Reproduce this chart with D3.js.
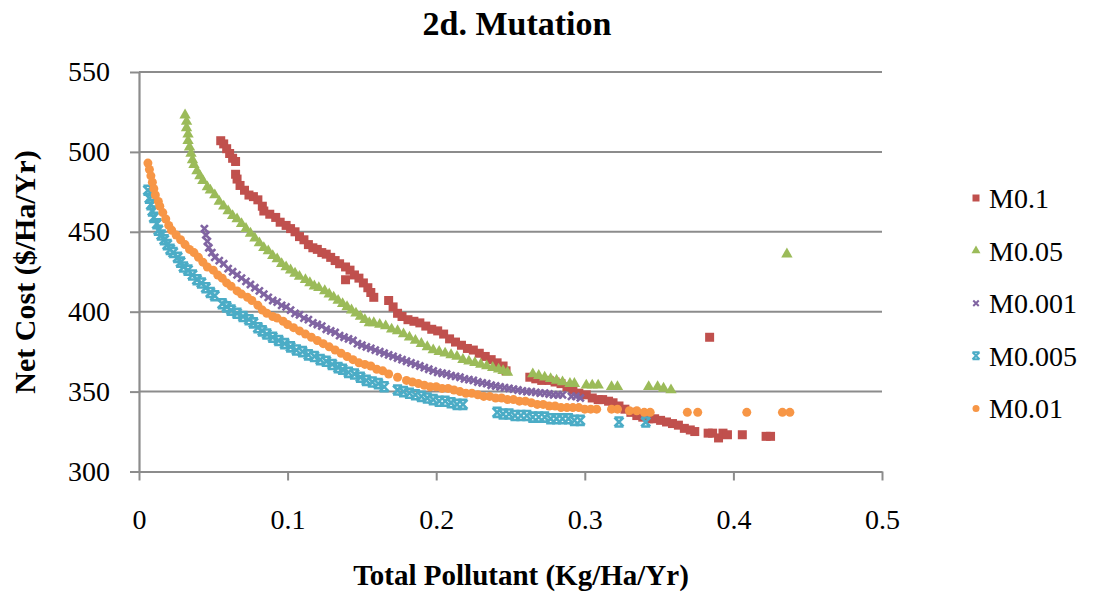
<!DOCTYPE html>
<html>
<head>
<meta charset="utf-8">
<script src="https://cdn.jsdelivr.net/npm/d3@7"></script>
<style>
  body { margin: 0; background: #fff; }
  text { font-family: "Liberation Serif", "Times New Roman", serif; fill: #000; }
</style>
</head>
<body>
<div id="chart"></div>
<script>
// series: [pollutant, net cost]
const m01 = [
  [0.055,507],[0.057,505],[0.059,502],[0.061,499],[0.063,496],[0.065,494],[0.065,486],[0.066,483],
  [0.068,479],[0.071,476],[0.074,473],[0.077,472],[0.080,470],[0.083,466],[0.084,463],[0.088,461],
  [0.092,459],[0.095,456],[0.099,454],[0.102,452],[0.105,450],[0.108,447],[0.111,445],[0.114,442],
  [0.117,440],[0.120,439],[0.123,437],[0.126,436],[0.129,434],[0.132,432],[0.135,430],[0.139,428],
  [0.139,420],[0.142,426],[0.145,423],[0.148,421],[0.151,418],[0.154,415],[0.156,412],[0.158,409],
  [0.168,407],[0.171,403],[0.174,399],[0.177,397],[0.181,395],[0.185,394],[0.189,393],[0.193,391],
  [0.197,389],[0.201,388],[0.205,386],[0.209,383],[0.213,381],[0.217,379],[0.221,377],[0.225,376],
  [0.229,374],[0.233,372],[0.237,370],[0.241,368],[0.245,366],[0.247,363],[0.263,359],[0.267,358],
  [0.271,357],[0.276,357],[0.280,356],[0.284,355],[0.288,353],[0.292,351],[0.296,349],[0.301,348],
  [0.305,346],[0.309,345],[0.312,345],[0.316,344],[0.319,343],[0.323,341],[0.327,339],[0.331,337],
  [0.335,335],[0.339,334],[0.343,333],[0.347,333],[0.351,332],[0.355,331],[0.359,330],[0.363,329],
  [0.367,327],[0.371,326],[0.374,325],[0.383,324],[0.386,324],[0.390,321],[0.393,324],[0.396,323],
  [0.406,323],[0.422,322],[0.425,322],[0.384,384]
];

const m005 = [
  [0.031,523],[0.032,519],[0.032,515],[0.033,511],[0.033,507],[0.034,503],[0.035,499],[0.036,495],
  [0.037,492],[0.039,488],[0.041,485],[0.043,482],[0.046,478],[0.048,476],[0.051,473],[0.054,469],
  [0.057,466],[0.060,463],[0.063,460],[0.066,458],[0.069,455],[0.072,452],[0.075,449],[0.078,446],
  [0.081,443],[0.084,440],[0.087,438],[0.090,435],[0.093,433],[0.096,430],[0.099,428],[0.102,426],
  [0.105,424],[0.108,422],[0.112,420],[0.115,418],[0.118,416],[0.121,415],[0.125,413],[0.128,411],
  [0.131,409],[0.134,407],[0.137,405],[0.140,403],[0.143,401],[0.146,399],[0.149,397],[0.152,395],
  [0.155,393],[0.158,393],[0.162,392],[0.166,391],[0.170,389],[0.174,388],[0.178,386],[0.182,384],
  [0.186,382],[0.190,380],[0.194,378],[0.198,376],[0.202,375],[0.206,374],[0.210,373],[0.214,372],
  [0.218,370],[0.222,369],[0.226,368],[0.230,367],[0.234,366],[0.238,365],[0.242,364],[0.245,363],
  [0.248,362],[0.265,361],[0.269,360],[0.273,359],[0.277,358],[0.281,357],[0.285,356],[0.290,355],
  [0.293,355],[0.301,354],[0.305,354],[0.309,354],[0.318,353],[0.322,353],[0.343,353],[0.349,353],
  [0.353,352],[0.358,351],[0.436,436]
];

const m0001 = [
  [0.044,452],[0.045,448],[0.046,444],[0.047,440],[0.049,437],[0.051,434],[0.054,432],[0.057,430],
  [0.060,427],[0.063,425],[0.066,423],[0.069,421],[0.072,419],[0.075,417],[0.078,415],[0.081,413],
  [0.084,411],[0.087,409],[0.090,407],[0.093,406],[0.096,404],[0.099,403],[0.102,401],[0.105,399],
  [0.108,398],[0.111,396],[0.114,395],[0.117,393],[0.120,392],[0.123,391],[0.126,389],[0.129,388],
  [0.132,387],[0.135,385],[0.138,384],[0.141,383],[0.144,382],[0.147,380],[0.150,379],[0.153,378],
  [0.156,377],[0.159,376],[0.162,375],[0.165,374],[0.168,373],[0.171,372],[0.174,371],[0.177,370],
  [0.180,369],[0.183,368],[0.186,367],[0.189,366],[0.192,365],[0.195,364],[0.198,363],[0.201,362],
  [0.204,361.5],[0.207,361],[0.210,360],[0.213,359.5],[0.216,359],[0.219,358],[0.222,357.5],[0.225,357],
  [0.228,356],[0.231,355.5],[0.234,355],[0.237,354],[0.240,353.5],[0.243,353],[0.246,352.5],[0.249,352],
  [0.252,351.5],[0.255,351],[0.258,350.5],[0.261,350],[0.264,350],[0.267,349.5],[0.270,349],[0.273,349],
  [0.276,348.5],[0.279,348],[0.282,348],[0.285,348],[0.291,347],[0.294,347],[0.297,346]
];

const m0005 = [
  [0.006,476],[0.007,471],[0.008,467],[0.009,463],[0.010,459],[0.012,455],[0.013,451],[0.015,448],
  [0.017,445],[0.019,442],[0.021,439],[0.023,437],[0.026,434],[0.028,431],[0.030,428],[0.033,426],
  [0.036,423],[0.039,420],[0.042,418],[0.045,415],[0.048,412],[0.051,410],[0.056,405],[0.059,403],
  [0.062,401],[0.066,399],[0.070,397],[0.074,395],[0.077,393],[0.080,390],[0.083,388],[0.086,386],
  [0.090,384],[0.094,382],[0.098,380],[0.102,378],[0.106,376],[0.110,375],[0.114,373],[0.118,372],
  [0.122,370],[0.126,369],[0.130,367],[0.134,365],[0.137,364],[0.141,362],[0.145,361],[0.149,359],
  [0.153,357],[0.157,356],[0.161,355],[0.165,353],[0.174,351],[0.178,350],[0.182,349],[0.186,348],
  [0.190,347],[0.194,346],[0.198,345],[0.202,344],[0.206,344],[0.210,343],[0.214,342],[0.218,342],
  [0.241,337],[0.245,336],[0.249,336],[0.253,335],[0.257,335],[0.261,335],[0.265,334],[0.269,334],
  [0.273,334],[0.277,333],[0.281,333],[0.285,333],[0.289,333],[0.293,332],[0.297,332],[0.323,331],
  [0.341,331]
];

const m001 = [
  [0.006,493],[0.007,489],[0.008,485],[0.009,481],[0.010,477],[0.011,473],[0.013,469],[0.014,466],
  [0.016,462],[0.018,458],[0.020,454],[0.022,451],[0.025,448],[0.028,445],[0.031,442],[0.034,439],
  [0.037,437],[0.040,434],[0.043,431],[0.046,428],[0.050,426],[0.053,423],[0.056,421],[0.059,418],
  [0.062,416],[0.066,413],[0.069,411],[0.073,409],[0.076,407],[0.080,404],[0.083,401],[0.086,399],
  [0.090,397],[0.093,396],[0.097,394],[0.100,392],[0.104,390],[0.108,388],[0.112,386],[0.116,384],
  [0.120,382],[0.124,380],[0.128,378],[0.132,376],[0.136,374],[0.140,372],[0.144,370],[0.148,368],
  [0.152,367],[0.156,366],[0.160,364],[0.164,363],[0.168,361],[0.174,359],[0.180,357],[0.184,356],
  [0.188,355],[0.192,354],[0.196,353],[0.200,353],[0.204,352],[0.208,352],[0.212,351],[0.216,350],
  [0.220,349],[0.224,349],[0.228,348],[0.232,347],[0.236,347],[0.240,346],[0.244,346],[0.248,345],
  [0.252,345],[0.256,344],[0.260,344],[0.264,343],[0.268,342],[0.272,342],[0.276,341],[0.280,341],
  [0.284,340],[0.288,340],[0.292,340],[0.296,340],[0.300,339],[0.304,339],[0.308,339],[0.318,339],
  [0.322,339],[0.330,338],[0.335,338],[0.340,337],[0.344,337],[0.369,337],[0.376,337],[0.409,337],
  [0.433,337],[0.438,337]
];

const seriesNames = ['M0.1', 'M0.05', 'M0.001', 'M0.005', 'M0.01'];
const seriesValues = [m01, m005, m0001, m0005, m001];
const xTicks = [0, 0.1, 0.2, 0.3, 0.4, 0.5];
const yTicks = [300, 350, 400, 450, 500, 550];

const COLORS = ['#C0504D', '#9BBB59', '#8064A2', '#4BACC6', '#F79646'];
const GRID = '#8c8c8c';

// marker path builders, s = overall size in px
const markers = [
  s => `M${-s/2},${-s/2}h${s}v${s}h${-s}Z`,
  s => d3.symbol(d3.symbolTriangle, s * s * 0.62)(),
  s => { const h = s / 2; return `M${-h},${-h}L${h},${h}M${-h},${h}L${h},${-h}`; },
  s => { const h = s / 2; return `M${-h},${-h}L${h},${h}M${-h},${h}L${h},${-h}M${-h},${-h}H${h}M${-h},${h}H${h}`; },
  s => d3.symbol(d3.symbolCircle, Math.PI * s * s / 4)()
];
const stroked = [false, false, true, true, false];
const plotSize = [9, 9.5, 7, 9, 9];
const legendSize = [7, 7.5, 5.5, 7, 7];

const width = 1098, height = 597;
const x = d3.scaleLinear().domain([0, 0.5]).range([139, 882]);
const y = d3.scaleLinear().domain([300, 550]).range([471.5, 72]);

const svg = d3.select('#chart').append('svg')
  .attr('width', width)
  .attr('height', height);

// gridlines
svg.append('g')
  .selectAll('line')
  .data(yTicks.slice(1))
  .join('line')
    .attr('x1', x(0)).attr('x2', x(0.5))
    .attr('y1', d => y(d)).attr('y2', d => y(d))
    .attr('stroke', GRID)
    .attr('stroke-width', 2);

// axes
const yAxis = svg.append('g')
  .attr('transform', `translate(${x(0)},0)`)
  .call(d3.axisLeft(y).tickValues(yTicks).tickSize(9).tickPadding(20).tickSizeOuter(0));

const xAxis = svg.append('g')
  .attr('transform', `translate(0,${y(300)})`)
  .call(d3.axisBottom(x).tickValues(xTicks).tickSize(9).tickSizeOuter(0).tickFormat(d3.format('')));

[xAxis, yAxis].forEach(ax => {
  ax.select('.domain').attr('stroke', GRID).attr('stroke-width', 2.2);
  ax.selectAll('.tick line').attr('stroke', GRID).attr('stroke-width', 2);
  ax.selectAll('.tick text')
    .style('font-family', '"Liberation Serif", "Times New Roman", serif')
    .style('font-size', '28px')
    .attr('fill', '#000');
});
xAxis.selectAll('.tick text').attr('y', 57).attr('dy', 0);

// points
seriesValues.forEach((values, i) => {
  const path = markers[i](plotSize[i]);
  svg.append('g')
    .attr('class', 'series')
    .selectAll('path')
    .data(values)
    .join('path')
      .attr('d', path)
      .attr('transform', d => `translate(${x(d[0])},${y(d[1])})`)
      .attr('fill', stroked[i] ? 'none' : COLORS[i])
      .attr('stroke', stroked[i] ? COLORS[i] : 'none')
      .attr('stroke-width', stroked[i] ? 2.6 : 0);
});

// title and axis titles
svg.append('text')
  .attr('x', 517).attr('y', 35)
  .attr('text-anchor', 'middle')
  .style('font-size', '34px').style('font-weight', 'bold')
  .text('2d. Mutation');

svg.append('text')
  .attr('x', 521).attr('y', 585)
  .attr('text-anchor', 'middle')
  .style('font-size', '29px').style('font-weight', 'bold')
  .text('Total Pollutant (Kg/Ha/Yr)');

svg.append('text')
  .attr('transform', 'translate(35,272) rotate(-90)')
  .attr('text-anchor', 'middle')
  .style('font-size', '30px').style('font-weight', 'bold')
  .text('Net Cost ($/Ha/Yr)');

// legend
const legend = svg.append('g')
  .selectAll('g')
  .data(seriesNames)
  .join('g')
    .attr('transform', (d, i) => `translate(976,${198 + i * 52.6})`);

legend.append('path')
  .attr('d', (d, i) => markers[i](legendSize[i]))
  .attr('fill', (d, i) => stroked[i] ? 'none' : COLORS[i])
  .attr('stroke', (d, i) => stroked[i] ? COLORS[i] : 'none')
  .attr('stroke-width', (d, i) => stroked[i] ? 2 : 0);

legend.append('text')
  .attr('x', 13).attr('y', 10)
  .style('font-size', '28px')
  .text(d => d);
</script>
</body>
</html>
